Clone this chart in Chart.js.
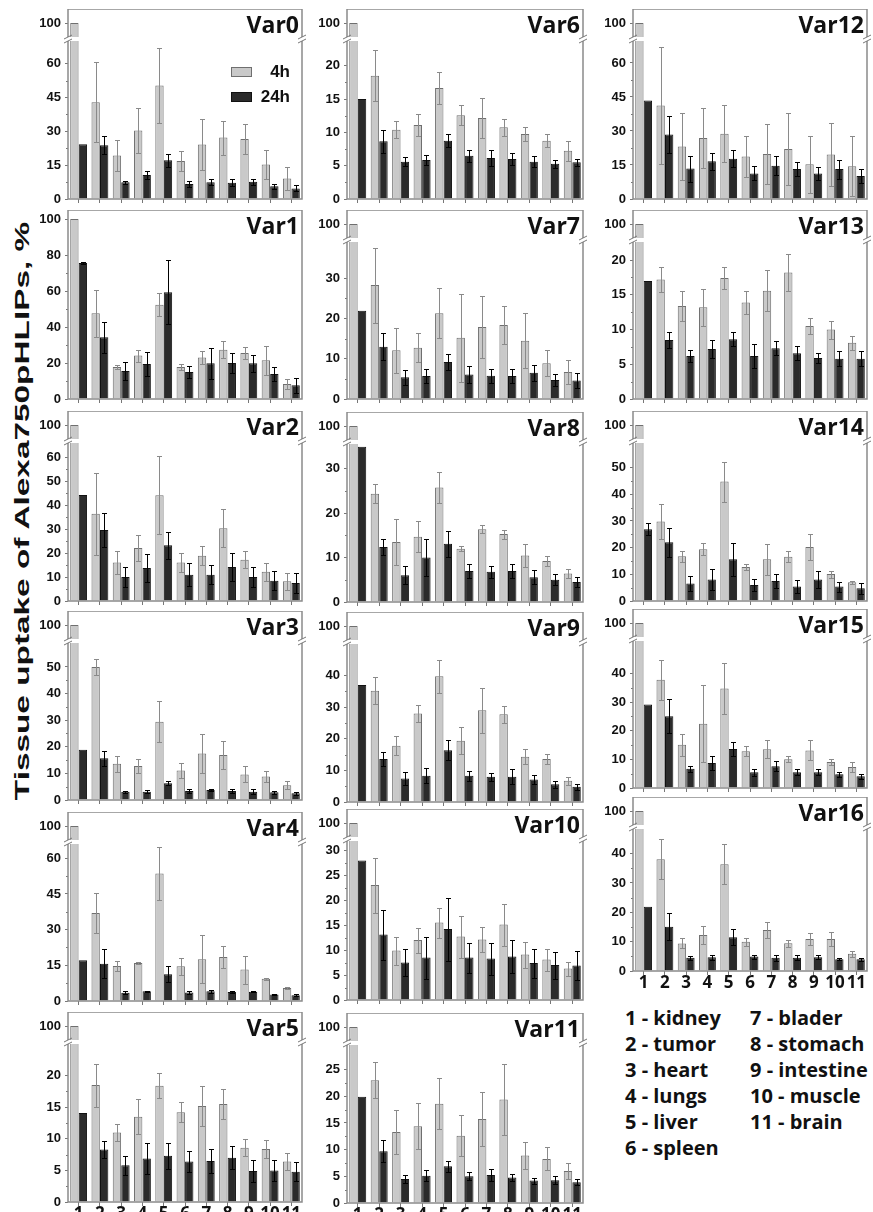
<!DOCTYPE html>
<html>
<head>
<meta charset="utf-8">
<script src="https://cdn.jsdelivr.net/npm/chart.js@4.4.0/dist/chart.umd.min.js"></script>
<style>
  body { margin: 0; background: #fff; width: 873px; height: 1212px; overflow: hidden; position: relative; }
  .pane { position: absolute; }
  #ytitle { position: absolute; font: bold 21px 'Liberation Sans', Arial, sans-serif; white-space: nowrap; color: #111; line-height: 24px; }
  .key { position: absolute; font: bold 20px 'Open Sans', sans-serif; line-height: 26px; color: #111; white-space: nowrap; }
</style>
</head>
<body>
<div id="ytitle">Tissue uptake of Alexa750pHLIPs, %</div>
<div class="key" id="key1" style="left:625px;top:1005px"></div>
<div class="key" id="key2" style="left:750px;top:1005px"></div>
<script>
const organs = ['1', '2', '3', '4', '5', '6', '7', '8', '9', '10', '11'];
const organNames = ['kidney', 'tumor', 'heart', 'lungs', 'liver', 'spleen', 'blader', 'stomach', 'intestine', 'muscle', 'brain'];

// Var0
const var0_4h = [100, 42.9, 19.3, 30.4, 50.3, 16.8, 24.1, 27.2, 26.6, 15.3, 9.1];
const var0_4hErr = [0, 17.7, 6.7, 9.9, 16.6, 4.5, 11.2, 7.5, 6.8, 6.6, 5.2];
const var0_24h = [24.3, 23.8, 7.4, 10.6, 17.2, 6.6, 7.4, 7.2, 7.6, 5.7, 4.7];
const var0_24hErr = [0, 4, 0.6, 1.9, 2.9, 1.5, 1.4, 1.5, 1.4, 1.1, 1.3];
const var0Ticks = [0, 15, 30, 45, 60, 100];
// Var1
const var1_4h = [100, 47.6, 17.8, 24.1, 52.4, 17.8, 23.1, 27.4, 25.6, 21.5, 8.3];
const var1_4hErr = [0, 13.1, 1.3, 3.3, 6.5, 1.8, 3.7, 4.8, 3.1, 8.1, 3.0];
const var1_24h = [75.5, 34.3, 15.6, 19.4, 59.3, 15, 19.8, 20, 19.8, 13.9, 7.6];
const var1_24hErr = [0.5, 8.7, 5, 6.5, 17.7, 3.5, 8.5, 5.6, 4.8, 3.7, 4.1];
const var1Ticks = [0, 20, 40, 60, 80, 100];
// Var2
const var2_4h = [100, 36.4, 16.1, 22.1, 44.2, 16.1, 18.9, 30.4, 17.2, 12.2, 8.2];
const var2_4hErr = [0, 17, 4.9, 5.4, 16.3, 4, 4, 7.9, 3.6, 3.8, 3.7];
const var2_24h = [44.3, 29.7, 10, 13.8, 23.3, 11, 11, 14.2, 10, 8.5, 7.5];
const var2_24hErr = [0, 7, 4.2, 5.9, 5.7, 4.8, 3.9, 5.8, 4.3, 4, 4.2];
const var2Ticks = [0, 10, 20, 30, 40, 50, 60, 100];
// Var3
const var3_4h = [100, 50, 13.6, 12.8, 29.4, 11.1, 17.5, 16.9, 9.6, 8.8, 5.5];
const var3_4hErr = [0, 3, 3, 2.6, 7.7, 2.8, 7.2, 5.2, 3, 2, 1.5];
const var3_24h = [18.9, 15.7, 3.1, 3.1, 6.3, 3.4, 3.8, 3.4, 3.1, 2.9, 2.5];
const var3_24hErr = [0, 2.8, 0.4, 0.5, 0.7, 0.6, 0.5, 0.8, 0.9, 0.5, 0.6];
const var3Ticks = [0, 10, 20, 30, 40, 50, 100];
// Var4
const var4_4h = [100, 37, 14.7, 16, 53.6, 14.6, 17.5, 18.5, 13.2, 9.4, 5.5];
const var4_4hErr = [0, 8.6, 2.1, 0.3, 11.2, 3.6, 10.1, 4.8, 5.9, 0.4, 0.3];
const var4_24h = [17.1, 15.7, 3.5, 4.1, 11.2, 3.6, 4.1, 3.8, 3.9, 2.7, 2.4];
const var4_24hErr = [0, 6, 0.6, 0.3, 3.4, 0.6, 0.7, 0.4, 0.3, 0.3, 0.4];
const var4Ticks = [0, 15, 30, 45, 60, 100];
// Var5
const var5_4h = [100, 18.5, 11, 13.5, 18.4, 14.2, 15.2, 15.5, 8.6, 8.4, 6.4];
const var5_4hErr = [0, 3.4, 1.3, 2.8, 2, 1.6, 3.2, 2.4, 1.3, 1.4, 1.3];
const var5_24h = [14.1, 8.3, 5.8, 6.9, 7.3, 6.4, 6.5, 7, 4.9, 5, 4.8];
const var5_24hErr = [0, 1.3, 1.5, 2.5, 2, 1.7, 1.9, 1.8, 1.8, 1.7, 1.5];
const var5Ticks = [0, 5, 10, 15, 20, 100];
// Var6
const var6_4h = [100, 18.5, 10.4, 11.1, 16.65, 12.55, 12.15, 10.75, 9.75, 8.75, 7.25];
const var6_4hErr = [0, 3.8, 1.25, 1.7, 2.35, 1.5, 3, 1.25, 1, 1, 1.5];
const var6_24h = [15, 8.65, 5.6, 5.85, 8.75, 6.5, 6.15, 6, 5.6, 5.3, 5.5];
const var6_24hErr = [0, 1.75, 0.65, 0.75, 1, 0.9, 1.25, 0.9, 0.8, 0.6, 0.5];
const var6Ticks = [0, 5, 10, 15, 20, 100];
// Var7
const var7_4h = [100, 28.3, 12.1, 12.7, 21.3, 15.2, 17.9, 18.4, 14.5, 8.9, 6.7];
const var7_4hErr = [0, 9.3, 5.65, 3.6, 6.2, 11, 7.8, 4.8, 6.75, 3.3, 3];
const var7_24h = [21.9, 13, 5.4, 5.7, 9.2, 6.1, 5.75, 5.7, 6.5, 4.75, 4.6];
const var7_24hErr = [0, 3.4, 1.85, 1.8, 2.05, 2.1, 1.75, 1.8, 2, 1.55, 1.8];
const var7Ticks = [0, 10, 20, 30, 100];
// Var8
const var8_4h = [100, 24.4, 13.5, 14.7, 25.8, 12, 16.4, 15.3, 10.45, 9.25, 6.4];
const var8_4hErr = [0, 2.1, 5.1, 3.5, 3.5, 0.6, 0.9, 1, 2.55, 1.2, 1.1];
const var8_24h = [35, 12.4, 6, 10, 13.1, 7, 6.8, 7, 5.6, 5, 4.5];
const var8_24hErr = [0, 1.7, 2, 4.2, 2.9, 1.6, 1.3, 1.5, 1.5, 1.2, 1.1];
const var8Ticks = [0, 10, 20, 30, 100];
// Var9
const var9_4h = [100, 35.2, 17.8, 28, 39.8, 19.4, 29, 27.8, 14.3, 13.6, 6.7];
const var9_4hErr = [0, 4.2, 3, 2.8, 5.2, 4.2, 7.1, 2.7, 2.4, 1.45, 1.3];
const var9_24h = [37, 13.6, 7.4, 8.3, 16.4, 8.3, 8, 8, 7.1, 5.6, 4.8];
const var9_24hErr = [0, 2.3, 2.1, 2.4, 3.1, 1.6, 1.3, 2.3, 1.5, 1.2, 0.9];
const var9Ticks = [0, 10, 20, 30, 40, 100];
// Var10
const var10_4h = [100, 23, 9.9, 12, 15.5, 12.7, 12.1, 15.1, 9.1, 8.1, 6.3];
const var10_4hErr = [0, 5.5, 2.8, 2.5, 3, 4.2, 2.5, 4.2, 2.6, 2.2, 1.4];
const var10_24h = [27.9, 13.1, 7.5, 8.5, 14.2, 8.5, 8.3, 8.7, 7.4, 7, 6.9];
const var10_24hErr = [0, 5, 2.7, 4.2, 6.3, 3, 3.2, 3.3, 2.9, 2.7, 2.9];
const var10Ticks = [0, 5, 10, 15, 20, 25, 30, 100];
// Var11
const var11_4h = [100, 23, 13.3, 14.4, 18.6, 12.6, 15.75, 19.4, 8.9, 8.25, 6];
const var11_4hErr = [0, 3.4, 4.2, 4.35, 4.8, 3.8, 5.05, 6.6, 2.5, 2.15, 1.5];
const var11_24h = [19.9, 9.7, 4.5, 5.1, 6.9, 5, 5.25, 4.8, 4.2, 4.25, 3.9];
const var11_24hErr = [0, 2.05, 0.8, 1, 1, 0.75, 1.15, 0.7, 0.55, 0.75, 0.6];
const var11Ticks = [0, 5, 10, 15, 20, 25, 100];
// Var12
const var12_4h = [100, 41.2, 23.2, 26.9, 28.8, 18.8, 19.9, 22.1, 15.3, 19.6, 14.4];
const var12_4hErr = [0, 25.8, 14.7, 13.2, 12.5, 9.1, 13.2, 15.8, 12.6, 13.8, 13.2];
const var12_24h = [43.5, 28.4, 13.4, 16.6, 17.8, 11.3, 14.7, 13.2, 11.2, 13.2, 10.1];
const var12_24hErr = [0, 8.1, 5.7, 3.7, 3.7, 3.1, 4.1, 3, 2.8, 4.2, 3.1];
const var12Ticks = [0, 15, 30, 45, 60, 100];
// Var13
const var13_4h = [100, 17.2, 13.4, 13.2, 17.4, 13.9, 15.6, 18.2, 10.5, 10, 8.1];
const var13_4hErr = [0, 1.8, 2.1, 2.7, 1.6, 1.6, 2.9, 2.7, 1.1, 1.3, 1];
const var13_24h = [17, 8.5, 6.2, 7.2, 8.6, 6.2, 7.3, 6.6, 5.9, 5.8, 5.8];
const var13_24hErr = [0, 1.1, 0.9, 1.3, 1, 1.7, 1, 1, 0.7, 1.1, 1.1];
const var13Ticks = [0, 5, 10, 15, 20, 100];
// Var14
const var14_4h = [100, 29.75, 16.75, 19.4, 44.75, 12.75, 15.6, 16.6, 20.25, 10.1, 7];
const var14_4hErr = [0, 6.6, 2.1, 2.2, 7.5, 1.1, 5.8, 2.1, 4.75, 1.3, 0.5];
const var14_24h = [26.9, 22, 6.6, 8.1, 15.6, 6, 7.5, 5.4, 8.1, 5.4, 4.75];
const var14_24hErr = [2.2, 5.4, 2.8, 3.8, 6.3, 2.1, 2.6, 2.5, 3.3, 1.85, 2.1];
const var14Ticks = [0, 10, 20, 30, 40, 50, 100];
// Var15
const var15_4h = [100, 37.8, 15.1, 22.4, 34.7, 12.8, 13.5, 10, 13.1, 9.1, 7.3];
const var15_4hErr = [0, 7, 3.9, 13.4, 8.9, 1.7, 3.1, 1, 3.5, 1.1, 1.8];
const var15_24h = [29.1, 25, 6.7, 8.7, 13.6, 5.5, 7.6, 5.5, 5.5, 4.8, 4.1];
const var15_24hErr = [0, 5.9, 1.1, 2.5, 2.6, 1.2, 1.8, 1.1, 1, 0.9, 0.8];
const var15Ticks = [0, 10, 20, 30, 40, 100];
// Var16
const var16_4h = [100, 38.1, 9.4, 12.3, 36.4, 10, 14, 9.5, 10.9, 10.9, 5.9];
const var16_4hErr = [0, 6.9, 1.7, 3, 6.9, 1.4, 2.6, 1.2, 1.9, 2.4, 1];
const var16_24h = [21.9, 15.1, 4.5, 4.7, 11.5, 4.9, 4.5, 4.5, 4.7, 4, 4];
const var16_24hErr = [0, 4.6, 0.7, 0.8, 2.7, 0.7, 1, 0.8, 0.6, 0.4, 0.5];
const var16Ticks = [0, 10, 20, 30, 40, 100];

// y axis with a break: lower part 0..lowMax, then a gap, then a short band round 100
class BrokenScale extends Chart.LinearScale {
    getPixelForValue(value) {
        const b = this.brk;
        if (!b) return super.getPixelForValue(value);
        const lowTop = this.top + b.upperPx + b.gap;
        if (value <= b.lowMax) return this.bottom - (value / b.lowMax) * (this.bottom - lowTop);
        if (value < b.hiMin) return lowTop;
        const upBottom = this.top + b.upperPx;
        return upBottom - (value - b.hiMin) / (b.hiMax - b.hiMin) * b.upperPx;
    }
}
BrokenScale.id = 'broken';
BrokenScale.defaults = {};
Chart.register(BrokenScale);
Chart.defaults.font.family = "'Liberation Sans', Arial, sans-serif";

const col1 = [68, 302], col2 = [347, 583], col3 = [633, 867];
const panels = [
    { name: 'Var0', d: [var0_4h, var0_4hErr, var0_24h, var0_24hErr], ticks: var0Ticks, lowMax: 70, x: col1, y: [9, 199], legend: true },
    { name: 'Var1', d: [var1_4h, var1_4hErr, var1_24h, var1_24hErr], ticks: var1Ticks, lowMax: 0, x: col1, y: [210, 399] },
    { name: 'Var2', d: [var2_4h, var2_4hErr, var2_24h, var2_24hErr], ticks: var2Ticks, lowMax: 66, x: col1, y: [411, 601] },
    { name: 'Var3', d: [var3_4h, var3_4hErr, var3_24h, var3_24hErr], ticks: var3Ticks, lowMax: 59, x: col1, y: [611, 800] },
    { name: 'Var4', d: [var4_4h, var4_4hErr, var4_24h, var4_24hErr], ticks: var4Ticks, lowMax: 66, x: col1, y: [812, 1001] },
    { name: 'Var5', d: [var5_4h, var5_4hErr, var5_24h, var5_24hErr], ticks: var5Ticks, lowMax: 25, x: col1, y: [1012, 1202], labels: true },
    { name: 'Var6', d: [var6_4h, var6_4hErr, var6_24h, var6_24hErr], ticks: var6Ticks, lowMax: 23.7, x: col2, y: [9, 199] },
    { name: 'Var7', d: [var7_4h, var7_4hErr, var7_24h, var7_24hErr], ticks: var7Ticks, lowMax: 39, x: col2, y: [210, 399] },
    { name: 'Var8', d: [var8_4h, var8_4hErr, var8_24h, var8_24hErr], ticks: var8Ticks, lowMax: 35.6, x: col2, y: [412, 602] },
    { name: 'Var9', d: [var9_4h, var9_4hErr, var9_24h, var9_24hErr], ticks: var9Ticks, lowMax: 50, x: col2, y: [612, 802] },
    { name: 'Var10', d: [var10_4h, var10_4hErr, var10_24h, var10_24hErr], ticks: var10Ticks, lowMax: 31.8, x: col2, y: [809, 1000] },
    { name: 'Var11', d: [var11_4h, var11_4hErr, var11_24h, var11_24hErr], ticks: var11Ticks, lowMax: 29.6, x: col2, y: [1013, 1203], labels: true },
    { name: 'Var12', d: [var12_4h, var12_4hErr, var12_24h, var12_24hErr], ticks: var12Ticks, lowMax: 69.7, x: col3, y: [9, 199] },
    { name: 'Var13', d: [var13_4h, var13_4hErr, var13_24h, var13_24hErr], ticks: var13Ticks, lowMax: 22.6, x: col3, y: [210, 399] },
    { name: 'Var14', d: [var14_4h, var14_4hErr, var14_24h, var14_24hErr], ticks: var14Ticks, lowMax: 59.2, x: col3, y: [411, 601] },
    { name: 'Var15', d: [var15_4h, var15_4hErr, var15_24h, var15_24hErr], ticks: var15Ticks, lowMax: 51.3, x: col3, y: [609, 788] },
    { name: 'Var16', d: [var16_4h, var16_4hErr, var16_24h, var16_24hErr], ticks: var16Ticks, lowMax: 48.4, x: col3, y: [797, 971], labels: true }
];

function line(ctx, x1, y1, x2, y2) {
    ctx.beginPath(); ctx.moveTo(x1, y1); ctx.lineTo(x2, y2); ctx.stroke();
}

function makeChart(p) {
    const [L, R] = p.x, [T, B] = p.y;
    const W = R - L + 60, H = B - T + 30;
    const div = document.createElement('div');
    div.className = 'pane';
    div.style.left = (L - 50) + 'px';
    div.style.top = T + 'px';
    const cv = document.createElement('canvas');
    cv.width = W; cv.height = H;
    cv.style.width = W + 'px'; cv.style.height = H + 'px';
    div.appendChild(cv);
    document.body.appendChild(div);

    const brk = p.lowMax ? { lowMax: p.lowMax, hiMin: 90, hiMax: 110, upperPx: 28, gap: 4 } : null;
    const [h4, e4, h24, e24] = p.d;

    const deco = {
        id: 'deco',
        afterDatasetsDraw(chart) {
            const ctx = chart.ctx, y = chart.scales.y;
            const errs = [e4, e24], cols = ['#8a8a8a', '#000'];
            ctx.save();
            ctx.lineWidth = 1;
            [h4, h24].forEach((vals, i) => {
                const meta = chart.getDatasetMeta(i);
                ctx.strokeStyle = cols[i];
                meta.data.forEach((bar, j) => {
                    const e = errs[i][j];
                    if (!e) return;
                    const x = Math.round(bar.x) + 0.5;
                    const yt = Math.round(y.getPixelForValue(vals[j] + e)) + 0.5;
                    const yb = Math.round(y.getPixelForValue(vals[j] - e)) + 0.5;
                    line(ctx, x, yt, x, yb);
                    line(ctx, x - 2.5, yt, x + 2.5, yt);
                    line(ctx, x - 2.5, yb, x + 2.5, yb);
                });
            });
            ctx.restore();
        },
        afterDraw(chart) {
            const ctx = chart.ctx, ca = chart.chartArea, y = chart.scales.y;
            ctx.save();
            // minor ticks
            ctx.strokeStyle = '#777'; ctx.lineWidth = 1;
            const low = p.ticks.filter(v => v < 100);
            for (let i = 0; i < low.length - 1; i++) {
                const yy = Math.round(y.getPixelForValue((low[i] + low[i + 1]) / 2)) + 0.5;
                line(ctx, ca.left - 2, yy, ca.left, yy);
            }
            // frame
            ctx.strokeStyle = '#8a8a8a'; ctx.lineWidth = 1.5;
            ctx.strokeRect(ca.left, ca.top, ca.right - ca.left, ca.bottom - ca.top);
            // axis break
            if (brk) {
                const y1 = ca.top + brk.upperPx, y2 = y1 + brk.gap;
                ctx.fillStyle = '#fff';
                ctx.fillRect(ca.left - 3, y1, ca.right - ca.left + 6, y2 - y1);
                ctx.strokeStyle = '#777'; ctx.lineWidth = 1;
                [ca.left, ca.right].forEach(x => {
                    [y1, y2].forEach(yy => line(ctx, x - 4, yy + 2, x + 4, yy - 2));
                });
            }
            // panel name
            ctx.fillStyle = '#111';
            ctx.font = "bold 23px 'Open Sans', sans-serif";
            ctx.textAlign = 'right';
            ctx.textBaseline = 'alphabetic';
            ctx.fillText(p.name, ca.right - 3, ca.top + 24);
            // legend
            if (p.legend) {
                const items = [['4h', '#c9c9c9', '#6f6f6f', 58], ['24h', '#2b2b2b', '#111', 83]];
                ctx.font = "bold 17px 'Liberation Sans', Arial, sans-serif";
                ctx.textBaseline = 'middle';
                items.forEach(([txt, fill, stroke, dy]) => {
                    ctx.fillStyle = fill; ctx.strokeStyle = stroke; ctx.lineWidth = 1;
                    ctx.fillRect(ca.right - 71, ca.top + dy, 21, 10);
                    ctx.strokeRect(ca.right - 70.5, ca.top + dy + 0.5, 20, 9);
                    ctx.fillStyle = '#111';
                    ctx.fillText(txt, ca.right - 12, ca.top + dy + 5.5);
                });
            }
            ctx.restore();
        }
    };

    new Chart(cv, {
        type: 'bar',
        data: {
            labels: organs,
            datasets: [
                { label: '4h', data: h4, backgroundColor: '#c9c9c9', borderColor: '#6f6f6f', borderWidth: 1 },
                { label: '24h', data: h24, backgroundColor: '#2b2b2b', borderColor: '#111', borderWidth: 1 }
            ]
        },
        options: {
            responsive: false,
            animation: false,
            devicePixelRatio: 1,
            categoryPercentage: 0.8,
            barPercentage: 0.98,
            layout: { padding: { left: 0, right: 10, top: 0, bottom: 0 } },
            plugins: { legend: { display: false }, tooltip: { enabled: false } },
            scales: {
                x: {
                    type: 'category',
                    offset: true,
                    border: { display: false },
                    grid: { offset: false, drawOnChartArea: false, drawTicks: true, tickLength: 4, color: '#777' },
                    ticks: {
                        display: !!p.labels, autoSkip: false, maxRotation: 0, padding: -2, color: '#111',
                        font: { family: "'Open Sans', sans-serif", weight: 'bold', size: 17 }
                    },
                    afterFit: s => { s.height = 30; s.paddingLeft = 0; s.paddingRight = 0; }
                },
                y: {
                    type: brk ? 'broken' : 'linear',
                    min: 0,
                    max: brk ? 110 : 105,
                    border: { display: false },
                    grid: { drawOnChartArea: false, drawTicks: true, tickLength: 3, color: '#777' },
                    ticks: {
                        autoSkip: false, padding: 4, color: '#111',
                        font: { family: "'Liberation Sans', Arial, sans-serif", weight: 'bold', size: 13 },
                        callback: v => String(v)
                    },
                    afterBuildTicks: s => { s.brk = brk; s.ticks = p.ticks.map(v => ({ value: v })); },
                    afterFit: s => { s.width = 50; s.paddingTop = 0; s.paddingBottom = 0; }
                }
            }
        },
        plugins: [deco]
    });
}

panels.forEach(makeChart);

// organ key
document.getElementById('key1').innerHTML = organNames.slice(0, 6).map((n, i) => (i + 1) + ' - ' + n).join('<br>');
document.getElementById('key2').innerHTML = organNames.slice(6).map((n, i) => (i + 7) + ' - ' + n).join('<br>');

// rotated y title, stretched along its length to match the reference span
const yt = document.getElementById('ytitle');
const tw = yt.offsetWidth, th = yt.offsetHeight;
yt.style.left = (22 - tw / 2) + 'px';
yt.style.top = (511 - th / 2) + 'px';
yt.style.transform = 'rotate(-90deg) scaleX(' + (578 / tw).toFixed(3) + ')';
</script>
</body>
</html>
